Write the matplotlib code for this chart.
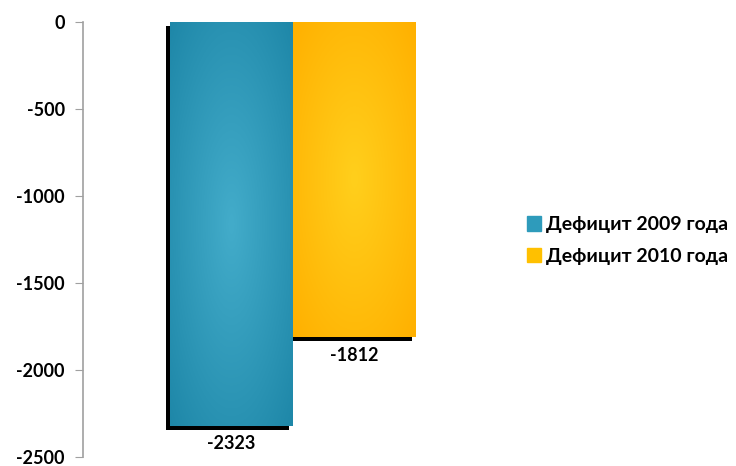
import numpy as np
import matplotlib
matplotlib.use("Agg")
import matplotlib.pyplot as plt
import matplotlib.patheffects as pe
from matplotlib.colors import LinearSegmentedColormap

plt.rcParams['font.family'] = ['Lato', 'DejaVu Sans']

# Data
series = ["Дефицит 2009 года", "Дефицит 2010 года"]
values = [-2323, -1812]
edge_colors = ["#1e87a8", "#ffb000"]
center_colors = ["#43acca", "#ffcf1c"]
legend_colors = ["#2e9bbb", "#ffc000"]
yticks = [0, -500, -1000, -1500, -2000, -2500]

fig = plt.figure(figsize=(7.36, 4.66), dpi=100)
ax = fig.add_axes([0.1128, 0.02, 0.57, 0.933])

width = 0.586
offsets = [-width / 2, width / 2]

bars = ax.bar(offsets, values, width=width, color=legend_colors, zorder=2,
              linewidth=0)

# radial gradient fill + black drop shadow on each bar
for bar, c0, c1 in zip(bars, center_colors, edge_colors):
    bar.set_path_effects([pe.SimplePatchShadow(offset=(-3, -3), shadow_rgbFace='black',
                                               alpha=1.0), pe.Normal()])
    x0 = bar.get_x()
    x1 = x0 + bar.get_width()
    y1 = bar.get_height()
    cmap = LinearSegmentedColormap.from_list("g", [c0, c1])
    yy, xx = np.mgrid[-1:1:200j, -1:1:200j]
    r = np.sqrt(xx ** 2 + yy ** 2) / np.sqrt(2)
    im = ax.imshow(r, cmap=cmap, extent=[x0, x1, y1, 0], aspect='auto',
                   zorder=3, interpolation='bilinear')
    im.set_clip_path(bar)

for x, v in zip(offsets, values):
    ax.text(x, v - 55, str(v), ha='center', va='top', fontsize=13,
            fontweight='bold', color='black', zorder=4)

ax.set_xlim(-1, 1)
ax.set_ylim(-2500, 0)
ax.set_yticks(yticks)
ax.set_yticklabels([str(t) for t in yticks], fontsize=13, fontweight='bold')
ax.tick_params(axis='y', length=6, color='#a0a0a0', pad=7)
ax.set_xticks([])
for s in ['top', 'right', 'bottom']:
    ax.spines[s].set_visible(False)
ax.spines['left'].set_color('#a0a0a0')
ax.spines['left'].set_linewidth(1.2)

handles = [plt.Rectangle((0, 0), 1, 1, color=c) for c in legend_colors]
fig.legend(handles, series, loc='center left', bbox_to_anchor=(0.692, 0.484),
           frameon=False, handlelength=0.75, handleheight=0.75, handletextpad=0.25,
           labelspacing=0.75, prop={'size': 14, 'weight': 'bold'})

fig.savefig("out.png", dpi=100)
